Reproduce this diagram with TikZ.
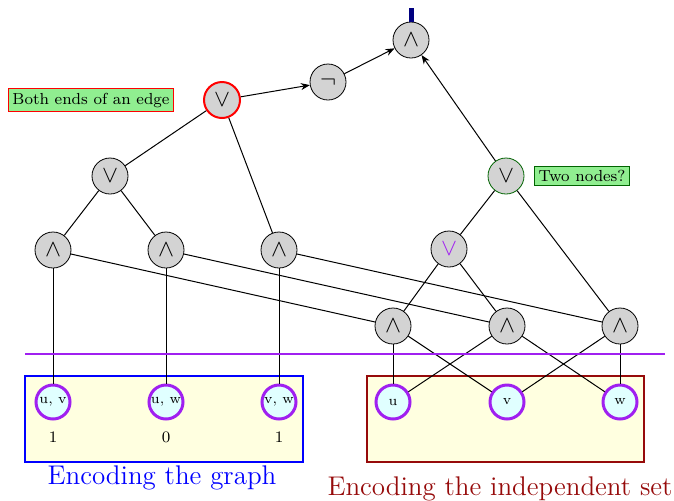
\documentclass[tikz,border=0pt]{standalone}
\usetikzlibrary{arrows.meta}
\definecolor{gatefill}{RGB}{211,211,211}
\definecolor{inputfill}{RGB}{224,255,255}
\definecolor{inputring}{RGB}{160,32,240}
\definecolor{boxfill}{RGB}{255,255,224}
\definecolor{notefill}{RGB}{144,238,144}
\definecolor{setred}{RGB}{150,10,10}
\definecolor{topnavy}{RGB}{0,0,128}
\definecolor{okgreen}{RGB}{0,100,0}
\begin{document}
\begin{tikzpicture}[x=0.5pt,y=-0.5pt,
  gate/.style={circle,draw,fill=gatefill,minimum size=18pt,inner sep=0pt,font=\large},
  input/.style={circle,draw=inputring,line width=1.5pt,fill=inputfill,minimum size=17pt,inner sep=0pt,font=\scriptsize},
  note/.style={draw,fill=notefill,font=\footnotesize,inner sep=2pt},
  caption/.style={font=\fontsize{13.5}{16}\selectfont,anchor=base},
  wire/.style={line width=0.5pt},
  arr/.style={wire,-{Stealth[length=4.5pt,width=3.5pt]}},
  region/.style={fill=boxfill,line width=1pt}]
\useasboundingbox (0,0) rectangle (674,500);

% the two encoding regions
\draw[region,draw=blue] (25,376) rectangle (303,462);
\draw[region,draw=setred] (367,376) rectangle (644,462);
\node[caption,blue] (gcap) at (162,484) {Encoding the graph};
\node[caption,setred] (scap) at (500,495) {Encoding the independent set};

% output and upper gates
\node[gate] (top) at (411,40) {$\wedge$};
\node[gate] (neg) at (328,82) {$\neg$};
\node[gate,draw=red,line width=1pt] (edgeor) at (222,100) {$\vee$};
\node[gate,draw=okgreen] (pairor) at (506,176) {$\vee$};
\node[gate] (lor) at (110,176) {$\vee$};
\node[gate] (a1) at (53,250) {$\wedge$};
\node[gate] (a2) at (166,250) {$\wedge$};
\node[gate] (a3) at (279,250) {$\wedge$};
\node[gate,text=inputring] (por) at (449,249) {$\vee$};
\node[gate] (b1) at (393,326) {$\wedge$};
\node[gate] (b2) at (507,326) {$\wedge$};
\node[gate] (b3) at (620,326) {$\wedge$};

% annotations
\node[note,draw=red] (n1) at (91,100) {Both ends of an edge};
\node[note,draw=okgreen] (n2) at (582,176) {Two nodes?};

% inputs
\node[input] (e1) at (53,402) {u, v};
\node[input] (e2) at (166,402) {u, w};
\node[input] (e3) at (279,402) {v, w};
\node[input] (u) at (393,402) {u};
\node[input] (v) at (507,402) {v};
\node[input] (w) at (620,402) {w};
\node[font=\footnotesize] (d1) at (53,437) {1};
\node[font=\footnotesize] (d2) at (166,437) {0};
\node[font=\footnotesize] (d3) at (279,437) {1};

% output marker
\draw[topnavy,line width=2.5pt] (top.north) -- ++(0,-14);

% wires
\draw[arr] (edgeor) -- (neg);
\draw[arr] (neg) -- (top);
\draw[arr] (pairor) -- (top);
\draw[wire] (edgeor) -- (lor);
\draw[wire] (edgeor) -- (a3);
\draw[wire] (lor) -- (a1);
\draw[wire] (lor) -- (a2);
\draw[wire] (a1) -- (b1);
\draw[wire] (a2) -- (b2);
\draw[wire] (a3) -- (b3);
\draw[wire] (a1) -- (e1);
\draw[wire] (a2) -- (e2);
\draw[wire] (a3) -- (e3);
\draw[wire] (pairor) -- (por);
\draw[wire] (pairor) -- (b3);
\draw[wire] (por) -- (b1);
\draw[wire] (por) -- (b2);
\draw[wire] (b1) -- (u);
\draw[wire] (b1) -- (v);
\draw[wire] (b2) -- (u);
\draw[wire] (b2) -- (w);
\draw[wire] (b3) -- (v);
\draw[wire] (b3) -- (w);

% separator
\coordinate (sl) at (25,354);
\coordinate (sr) at (665,354);
\draw[inputring,line width=1pt] (sl) -- (sr);
\end{tikzpicture}
\end{document}
